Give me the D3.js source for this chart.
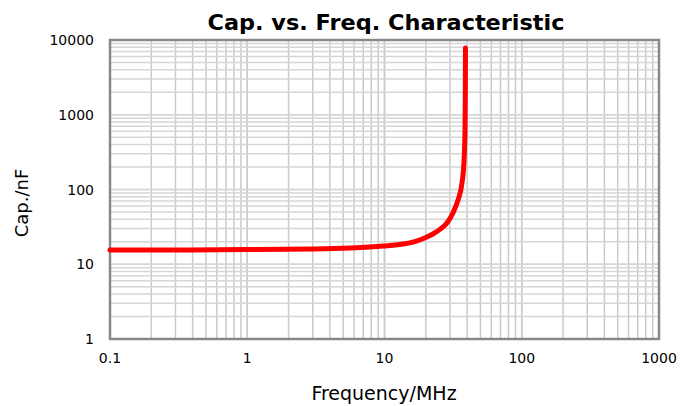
<!DOCTYPE html>
<html><head><meta charset="utf-8">
<script src="https://cdn.jsdelivr.net/npm/d3@7"></script>
<style>body{margin:0;background:#fff}svg{display:block}text{font-family:"DejaVu Sans",Verdana,sans-serif}</style>
</head><body>
<svg id="c" width="680" height="406"></svg>
<script>
const freqMHz = [0.1, 0.3, 1, 3, 5.6, 9.75, 14, 17.3, 20, 22.5, 25.5, 28.5, 31.5, 34.3, 36.7, 37.9, 38.6, 38.8, 38.9];
const capNF   = [15.5, 15.5, 15.7, 16.0, 16.5, 17.5, 18.8, 20.6, 22.8, 25.4, 29.5, 35.6, 48.5, 72, 122, 226, 625, 2000, 7800];
const xTicks = [0.1, 1, 10, 100, 1000];
const xTickLabels = ["0.1", "1", "10", "100", "1000"];
const yTicks = [1, 10, 100, 1000, 10000];
const yTickLabels = ["1", "10", "100", "1000", "10000"];
const title = "Cap. vs. Freq. Characteristic";
const xTitle = "Frequency/MHz";
const yTitle = "Cap./nF";

const L = 110, R = 659, T = 40, B = 339;
const svg = d3.select("#c");
const x = d3.scaleLog().domain([0.1, 1000]).range([L, R]);
const y = d3.scaleLog().domain([1, 10000]).range([B, T]);

const minor = (lo, hi) => { const a = []; for (let d = lo; d < hi; d *= 10) for (let k = 1; k <= 10; k++) a.push(d * k); return a; };
const g = svg.append("g");
g.selectAll("line.vx").data(minor(0.1, 1000)).join("line")
  .attr("x1", d => x(d)).attr("x2", d => x(d)).attr("y1", T).attr("y2", B)
  .attr("stroke", "#cacaca").attr("stroke-width", 1.5);
g.selectAll("line.hy").data(minor(1, 10000)).join("line")
  .attr("y1", d => y(d)).attr("y2", d => y(d)).attr("x1", L).attr("x2", R)
  .attr("stroke", "#d6d6d6").attr("stroke-width", 1.5);

svg.append("rect").attr("x", L).attr("y", T).attr("width", R - L).attr("height", B - T)
  .attr("fill", "none").attr("stroke", "#888").attr("stroke-width", 2.5);

const pts = freqMHz.map((f, i) => [f, capNF[i]]);
svg.append("path").datum(pts)
  .attr("d", d3.line().x(d => x(d[0])).y(d => y(d[1])).curve(d3.curveMonotoneX))
  .attr("fill", "none").attr("stroke", "#ff0000").attr("stroke-width", 5).attr("stroke-linecap", "round");

svg.selectAll("text.xt").data(xTicks).join("text")
  .attr("x", d => x(d)).attr("y", 363).attr("text-anchor", "middle")
  .attr("font-size", 14).attr("fill", "#000").text((d, i) => xTickLabels[i]);
svg.selectAll("text.yt").data(yTicks).join("text")
  .attr("x", 94).attr("y", d => y(d) + 5).attr("text-anchor", "end")
  .attr("font-size", 14).attr("fill", "#000").text((d, i) => yTickLabels[i]);

svg.append("text").attr("x", 386).attr("y", 30).attr("text-anchor", "middle")
  .attr("font-size", 22).attr("font-weight", "bold").attr("textLength", 357).attr("lengthAdjust", "spacingAndGlyphs").text(title);
svg.append("text").attr("x", 384).attr("y", 400).attr("text-anchor", "middle")
  .attr("font-size", 19).attr("fill", "#000").text(xTitle);
svg.append("text").attr("transform", "translate(28,203) rotate(-90)").attr("text-anchor", "middle")
  .attr("font-size", 18).attr("fill", "#000").text(yTitle);
</script>
</body></html>
